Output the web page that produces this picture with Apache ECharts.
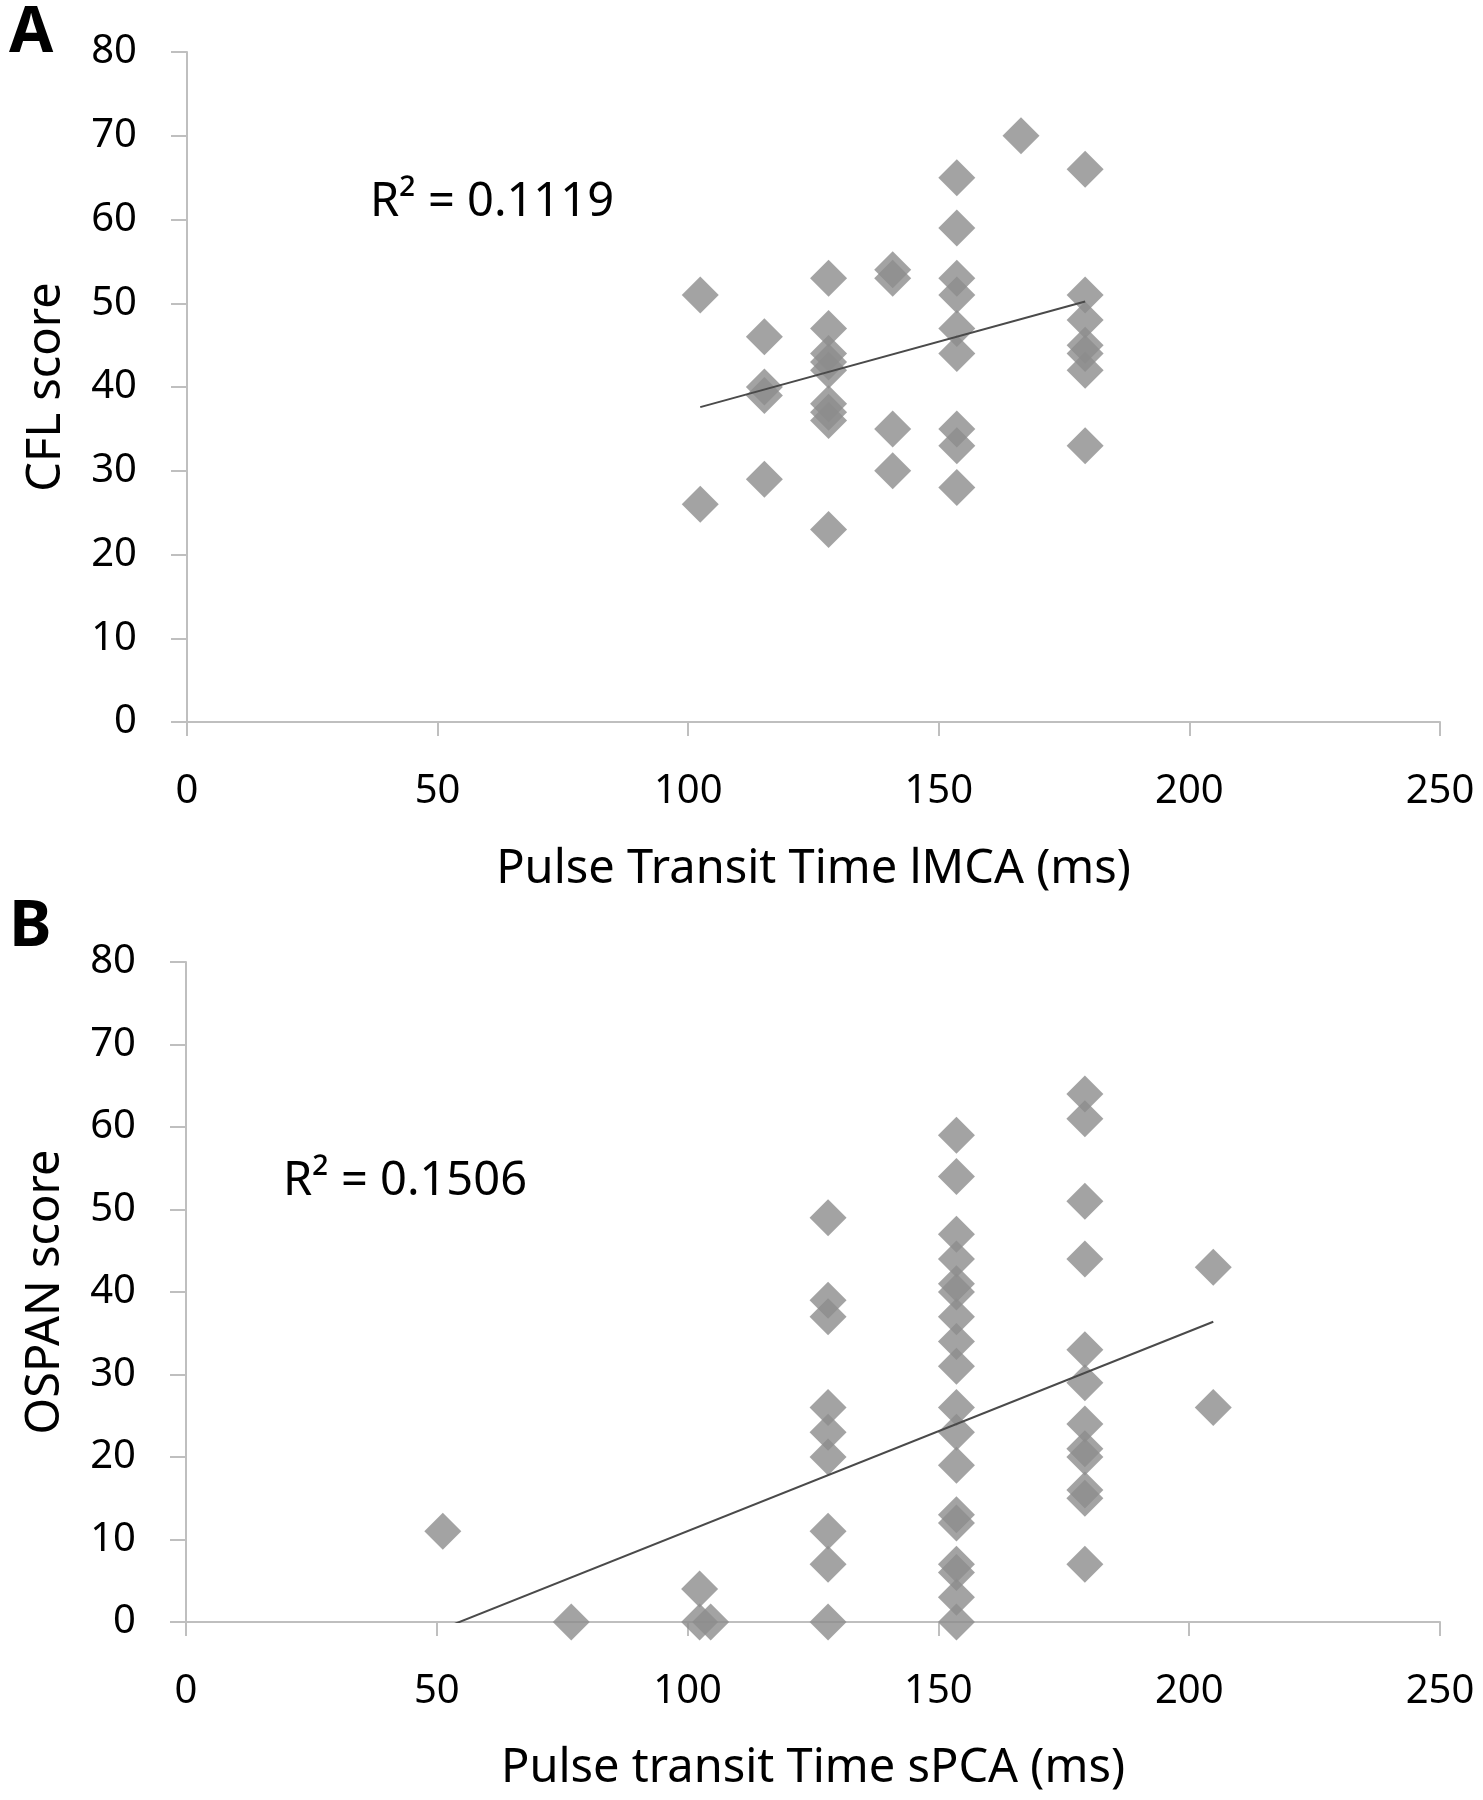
<!DOCTYPE html>
<html>
<head>
<meta charset="utf-8">
<title>Pulse transit time vs scores</title>
<script src="https://cdn.jsdelivr.net/npm/echarts@6/dist/echarts.min.js"></script>
<style>
  html, body { margin: 0; padding: 0; background: #fff; }
  #chart { width: 1483px; height: 1800px; }
</style>
</head>
<body>
<div id="chart"></div>
<script>
// panel A: CFL score against pulse transit time lMCA (ms)
var cflPtt = [
    102.4, 102.4,
    115.2, 115.2, 115.2, 115.2,
    128, 128, 128, 128, 128, 128, 128, 128, 128,
    140.8, 140.8, 140.8, 140.8,
    153.6, 153.6, 153.6, 153.6, 153.6, 153.6, 153.6, 153.6, 153.6,
    166.4,
    179.2, 179.2, 179.2, 179.2, 179.2, 179.2, 179.2
];
var cflScore = [
    51, 26,
    46, 40, 39, 29,
    53, 47, 44, 43, 42, 38, 37, 36, 23,
    54, 53, 35, 30,
    65, 59, 53, 51, 47, 44, 35, 33, 28,
    70,
    66, 51, 48, 45, 44, 42, 33
];
// trend line ends (x, y) as drawn in the figure
var cflTrend = [[102.4, 37.6], [179.2, 50.2]];
var cflR2 = 'R² = 0.1119';

// panel B: OSPAN score against pulse transit time sPCA (ms)
var ospanPtt = [
    51.2,
    76.8,
    102.4, 102.4, 104.6,
    128, 128, 128, 128, 128, 128, 128, 128, 128,
    153.6, 153.6, 153.6, 153.6, 153.6, 153.6, 153.6, 153.6, 153.6,
    153.6, 153.6, 153.6, 153.6, 153.6, 153.6, 153.6, 153.6, 153.6,
    179.2, 179.2, 179.2, 179.2, 179.2, 179.2, 179.2, 179.2, 179.2, 179.2, 179.2, 179.2,
    204.8, 204.8
];
var ospanScore = [
    11,
    0,
    4, 0, 0,
    49, 39, 37, 26, 23, 20, 11, 7, 0,
    59, 54, 47, 44, 41, 40, 37, 34, 31,
    26, 23, 19, 13, 12, 7, 6, 3, 0,
    64, 61, 51, 44, 33, 29, 24, 21, 20, 16, 15, 7,
    43, 26
];
var ospanTrend = [[51.2, -0.8], [204.8, 36.4]];
var ospanR2 = 'R² = 0.1506';

var xTitles = ['Pulse Transit Time lMCA (ms)', 'Pulse transit Time sPCA (ms)'];
var yTitles = ['CFL score', 'OSPAN score'];
var panelLetters = ['A', 'B'];

var FONT = '"Noto Sans", "Open Sans", sans-serif';
var AXIS_GRAY = '#bfbfbf';

var toPairs = function (xs, ys) {
    var out = [];
    for (var i = 0; i < xs.length; i++) {
        out.push([xs[i], ys[i]]);
    }
    return out;
};

var makeXAxis = function (idx, name, gap) {
    return {
        gridIndex: idx,
        type: 'value',
        min: 0, max: 250, interval: 50,
        name: name,
        nameLocation: 'middle',
        nameGap: gap,
        nameTextStyle: { fontFamily: FONT, fontSize: 47, color: '#000' },
        axisLine: { show: true, onZero: false, lineStyle: { color: AXIS_GRAY, width: 2 } },
        axisTick: { show: true, length: 14, lineStyle: { color: AXIS_GRAY, width: 2 } },
        axisLabel: { fontFamily: FONT, fontSize: 40, color: '#000', margin: 50 },
        splitLine: { show: false }
    };
};

var makeYAxis = function (idx, name) {
    return {
        gridIndex: idx,
        type: 'value',
        min: 0, max: 80, interval: 10,
        name: name,
        nameLocation: 'middle',
        nameGap: 117,
        nameRotate: 90,
        nameTextStyle: { fontFamily: FONT, fontSize: 47, color: '#000' },
        axisLine: { show: true, onZero: false, lineStyle: { color: AXIS_GRAY, width: 2 } },
        axisTick: { show: true, length: 16, lineStyle: { color: AXIS_GRAY, width: 2 } },
        axisLabel: { fontFamily: FONT, fontSize: 40, color: '#000', margin: 50 },
        splitLine: { show: false }
    };
};

var scatterSerie = function (idx, data) {
    return {
        type: 'scatter',
        xAxisIndex: idx, yAxisIndex: idx,
        symbol: 'diamond',
        symbolSize: 37,
        itemStyle: { color: '#8c8c8c' },
        data: data,
        silent: true
    };
};

var trendSerie = function (idx, data) {
    return {
        type: 'line',
        xAxisIndex: idx, yAxisIndex: idx,
        data: data,
        symbol: 'none',
        clip: true,
        lineStyle: { color: '#4a4a4a', width: 2 },
        silent: true,
        z: 5
    };
};

var option = {
    backgroundColor: '#fff',
    animation: false,
    grid: [
        { left: 187, top: 52, width: 1253, height: 670 },
        { left: 186, top: 962, width: 1254, height: 660 }
    ],
    xAxis: [makeXAxis(0, xTitles[0], 124), makeXAxis(1, xTitles[1], 123)],
    yAxis: [makeYAxis(0, yTitles[0]), makeYAxis(1, yTitles[1])],
    series: [
        scatterSerie(0, toPairs(cflPtt, cflScore)),
        trendSerie(0, cflTrend),
        scatterSerie(1, toPairs(ospanPtt, ospanScore)),
        trendSerie(1, ospanTrend)
    ],
    graphic: [
        { type: 'text', left: 9, top: 2, style: { text: panelLetters[0], font: 'bold 64px ' + FONT, fill: '#000' } },
        { type: 'text', left: 9, top: 896, style: { text: panelLetters[1], font: 'bold 64px ' + FONT, fill: '#000' } },
        { type: 'text', left: 370, top: 179, style: { text: cflR2, font: '47px ' + FONT, fill: '#000' } },
        { type: 'text', left: 283, top: 1158, style: { text: ospanR2, font: '47px ' + FONT, fill: '#000' } }
    ]
};

var chart = echarts.init(document.getElementById('chart'));
chart.setOption(option);
</script>
</body>
</html>
